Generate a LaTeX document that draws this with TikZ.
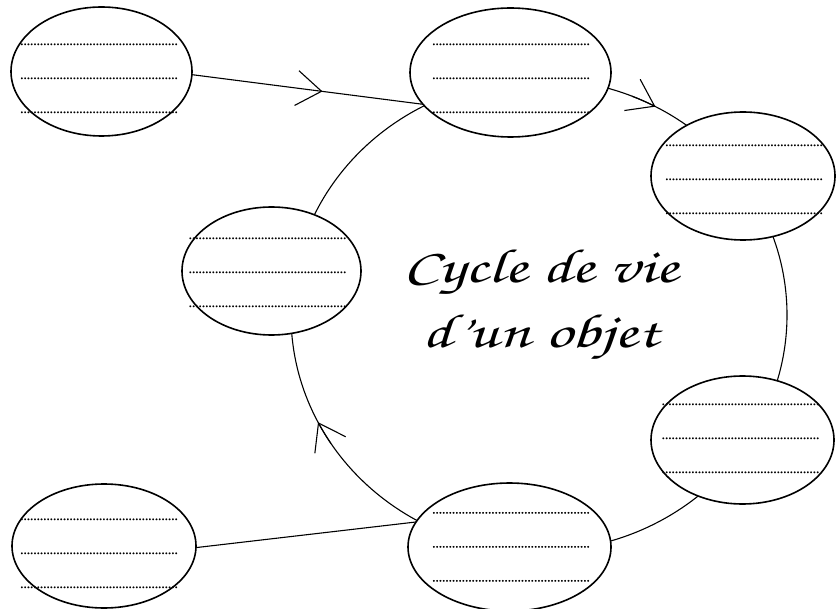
\documentclass[tikz,border=0pt]{standalone}
\usepackage{fontspec}
\setmainfont{Liberation Serif}
\newfontfamily\handfont[FakeStretch=1.4]{texgyrechorus-mediumitalic.otf}
\newfontfamily\dotfont[FakeBold=1.2]{Liberation Serif Bold}
\usetikzlibrary{shapes.geometric,arrows.meta,decorations.markings,backgrounds}
\newcommand{\fourdots}{…………}
\newcommand{\blankline}{\strut\fourdots\fourdots\fourdots\fourdots}
\newcommand{\blanktext}{\blankline\\\blankline\\\blankline}
\tikzset{
  bubble/.style={draw, ellipse, fill=white, line width=1.6pt, inner sep=0pt, outer sep=0pt},
  blanks/.style={align=center, inner sep=0pt, font=\dotfont\fontsize{9.85}{34}\selectfont},
  link/.style={line width=1.1pt},
  barb/.style={-{Straight Barb[length=25pt,width=35pt]}},
  midarrow/.style={postaction=decorate, decoration={markings,
      mark=at position #1 with {\arrow{Straight Barb[length=25pt,width=35pt]}}}},
  titletext/.style={align=center, inner sep=0pt, font=\handfont\fontsize{48}{65}\selectfont}
}
\begin{document}
\begin{tikzpicture}[x=1pt,y=-1pt]
\useasboundingbox (0,0) rectangle (837,609);
\node[bubble, minimum width=181pt, minimum height=129pt] (n1) at (101.5,71.5) {};
\node[bubble, minimum width=201pt, minimum height=129pt] (n2) at (510.5,72.5) {};
\node[bubble, minimum width=184pt, minimum height=128pt] (n3) at (743,176) {};
\node[bubble, minimum width=179pt, minimum height=128pt] (n4) at (271.5,271) {};
\node[bubble, minimum width=183pt, minimum height=128pt] (n5) at (742.5,440) {};
\node[bubble, minimum width=203pt, minimum height=128pt] (n6) at (509.5,547) {};
\node[bubble, minimum width=184pt, minimum height=124pt] (n7) at (104,546) {};
\node[blanks] (t1) at (99,72.2) {\blanktext};
\node[blanks] (t2) at (511,72.2) {\blanktext};
\node[blanks] (t3) at (744,173.2) {\blanktext};
\node[blanks] (t4) at (267.5,266.2) {\blanktext};
\node[blanks] (t5) at (740.5,432.2) {\blanktext};
\node[blanks] (t6) at (511,540.7) {\blanktext};
\node[blanks] (t7) at (99,547.2) {\blanktext};
\node[titletext] (title) at (541,301.5) {\strut Cycle de vie\\\strut d’un objet};
\coordinate (c) at (539,315);
\begin{scope}[on background layer]
\draw[link] (c) ellipse [x radius=248, y radius=236];
\draw[link, barb] (c) ++(292:248 and 236) arc [start angle=292, end angle=298, x radius=248, y radius=236];
\draw[link, barb] (c) ++(147:248 and 236) arc [start angle=147, end angle=153, x radius=248, y radius=236];
\draw[link, midarrow=0.565] (n1.-2) -- (n2.200);
\draw[link] (n7.-1) -- (n6.165);
\end{scope}
\end{tikzpicture}
\end{document}
